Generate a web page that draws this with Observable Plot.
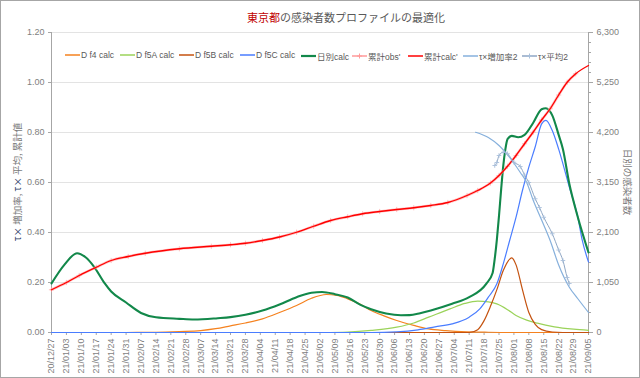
<!DOCTYPE html>
<html><head><meta charset="utf-8">
<script src="https://cdn.jsdelivr.net/npm/d3@7"></script>
<script src="https://cdn.jsdelivr.net/npm/@observablehq/plot@0.6"></script>
<style>
body{margin:0;background:#fff;}
#chart{position:relative;width:640px;height:378px;overflow:hidden;font-family:"Liberation Sans","Noto Sans CJK JP",Arial,sans-serif;background:#fff;}
#chart svg.plot{position:absolute;left:0;top:0;}
#frame{position:absolute;left:0;top:0;width:640px;height:378px;box-sizing:border-box;border:1px solid #a6a6a6;pointer-events:none;}
#title{position:absolute;top:9px;left:247px;font-size:11px;color:#595959;white-space:nowrap;font-family:"Noto Sans CJK JP",sans-serif;}
#title .red{color:#c00000;}
#legend{position:absolute;left:0;top:50px;width:640px;height:12px;font-size:8.5px;color:#595959;white-space:nowrap;font-family:"Liberation Sans","Noto Sans CJK JP",sans-serif;}
#legend .item{position:absolute;top:0;display:flex;align-items:center;gap:1px;}
.ytitle{position:absolute;font-size:9.5px;color:#7a7a7a;white-space:nowrap;font-family:"Noto Sans CJK JP",sans-serif;}
.ytitle .tau{color:#1f3864;}
</style></head>
<body>
<div id="chart">
  <div id="title"><span class="red">東京都</span>の感染者数プロファイルの最適化</div>
  <div class="ytitle" id="ytl" style="left:17px;top:182px;transform:translate(-50%,-50%) rotate(-90deg);"><span class="tau">τ×</span> 増加率, <span class="tau">τ×</span> 平均, 累計値</div>
  <div class="ytitle" id="ytr" style="left:628px;top:182px;transform:translate(-50%,-50%) rotate(90deg);">日別の感染者数</div>
  <div id="legend"></div>
  <div id="frame"></div>
</div>
<script>
// ---------- data ----------
const xTickLabels = ["20/12/27","21/01/03","21/01/10","21/01/17","21/01/24","21/01/31","21/02/07","21/02/14","21/02/21","21/02/28","21/03/07","21/03/14","21/03/21","21/03/28","21/04/04","21/04/11","21/04/18","21/04/25","21/05/02","21/05/09","21/05/16","21/05/23","21/05/30","21/06/06","21/06/13","21/06/20","21/06/27","21/07/04","21/07/11","21/07/18","21/07/25","21/08/01","21/08/08","21/08/15","21/08/22","21/08/29","21/09/05"];
const leftTicks = [0, 0.2, 0.4, 0.6, 0.8, 1.0, 1.2];
const rightTicks = [0, 1050, 2100, 3150, 4200, 5250, 6300];
const rightMinorStep = 210;
const rightPerLeft = 5250; // 1.00 on the left axis = 5,250 on the right axis

const legendLabels = ["D f4 calc","D f5A calc","D f5B calc","D f5C calc","日別calc","累計obs'","累計calc'","τ×増加率2","τ×平均2"];

// right axis series (daily counts)
const dF4 = [["2021-01-31",0],["2021-02-14",5],["2021-02-25",20],["2021-03-07",40],["2021-03-14",80],["2021-03-21",140],["2021-03-28",200],["2021-04-05",287],["2021-04-13",420],["2021-04-21",567],["2021-04-28",720],["2021-05-05",798],["2021-05-10",780],["2021-05-15",707],["2021-05-21",590],["2021-05-26",462],["2021-06-01",350],["2021-06-07",252],["2021-06-15",150],["2021-06-22",75],["2021-06-30",40],["2021-07-10",15],["2021-07-20",5],["2021-07-30",0],["2021-09-05",0]];
const dF5A = [["2021-05-03",0],["2021-05-15",10],["2021-05-26",45],["2021-06-07",112],["2021-06-15",200],["2021-06-22",322],["2021-07-02",497],["2021-07-09",610],["2021-07-15",658],["2021-07-20",645],["2021-07-24",600],["2021-07-29",480],["2021-08-02",357],["2021-08-07",260],["2021-08-12",196],["2021-08-20",120],["2021-08-29",70],["2021-09-05",45]];
const dF5B = [["2021-01-31",0],["2021-07-11",0],["2021-07-15",60],["2021-07-18",250],["2021-07-21",550],["2021-07-24",900],["2021-07-27",1300],["2021-07-30",1540],["2021-07-31",1568],["2021-08-02",1420],["2021-08-05",900],["2021-08-08",420],["2021-08-11",170],["2021-08-14",60],["2021-08-19",10],["2021-08-24",0],["2021-09-05",0]];
const dF5C = [["2020-12-27",0],["2021-05-26",0],["2021-06-07",15],["2021-06-17",57],["2021-06-25",120],["2021-07-03",182],["2021-07-11",322],["2021-07-16",497],["2021-07-20",742],["2021-07-24",1022],["2021-07-27",1442],["2021-07-30",1932],["2021-08-02",2422],["2021-08-05",2982],["2021-08-08",3472],["2021-08-11",3900],["2021-08-14",4380],["2021-08-16",4455],["2021-08-19",4242],["2021-08-22",3850],["2021-08-27",3052],["2021-08-31",2422],["2021-09-02",1950],["2021-09-05",1480]];
const dailyCalc = [["2020-12-27",1030],["2021-01-02",1420],["2021-01-08",1665],["2021-01-12",1580],["2021-01-16",1380],["2021-01-21",1030],["2021-01-24",860],["2021-01-31",630],["2021-02-07",410],["2021-02-14",320],["2021-02-25",287],["2021-03-04",273],["2021-03-15",300],["2021-03-21",322],["2021-03-28",371],["2021-04-05",462],["2021-04-13",590],["2021-04-21",741],["2021-04-28",835],["2021-05-03",850],["2021-05-09",805],["2021-05-15",735],["2021-05-21",580],["2021-05-26",490],["2021-06-02",400],["2021-06-09",362],["2021-06-13",365],["2021-06-18",406],["2021-06-23",462],["2021-07-03",602],["2021-07-11",742],["2021-07-19",1022],["2021-07-22",1250],["2021-07-23",1550],["2021-07-24",1950],["2021-07-25",2450],["2021-07-26",3000],["2021-07-27",3500],["2021-07-28",3850],["2021-07-29",4060],["2021-07-31",4130],["2021-08-03",4100],["2021-08-06",4150],["2021-08-10",4400],["2021-08-14",4690],["2021-08-16",4710],["2021-08-19",4560],["2021-08-22",4150],["2021-08-24",3850],["2021-08-27",3122],["2021-08-31",2422],["2021-09-05",1680]];

// left axis series
const cumCalc = [["2020-12-27",0.171],["2021-01-03",0.200],["2021-01-09",0.228],["2021-01-17",0.261],["2021-01-24",0.288],["2021-02-01",0.304],["2021-02-09",0.317],["2021-02-25",0.335],["2021-03-12",0.345],["2021-03-21",0.351],["2021-03-28",0.357],["2021-04-05",0.368],["2021-04-13",0.382],["2021-04-21",0.401],["2021-04-29",0.425],["2021-05-07",0.448],["2021-05-15",0.463],["2021-05-22",0.475],["2021-05-30",0.484],["2021-06-07",0.492],["2021-06-15",0.499],["2021-06-23",0.508],["2021-07-01",0.520],["2021-07-10",0.548],["2021-07-15",0.568],["2021-07-21",0.598],["2021-07-25",0.628],["2021-07-29",0.665],["2021-08-02",0.708],["2021-08-06",0.755],["2021-08-10",0.801],["2021-08-14",0.850],["2021-08-18",0.895],["2021-08-22",0.950],["2021-08-26",1.001],["2021-08-30",1.035],["2021-09-05",1.068]];
const cumObs = [["2020-12-27",0.171],["2021-01-03",0.200],["2021-01-09",0.228],["2021-01-17",0.261],["2021-01-24",0.288],["2021-02-01",0.304],["2021-02-09",0.317],["2021-02-25",0.335],["2021-03-12",0.345],["2021-03-21",0.351],["2021-03-28",0.357],["2021-04-05",0.368],["2021-04-13",0.382],["2021-04-21",0.401],["2021-04-29",0.425],["2021-05-07",0.448],["2021-05-15",0.463],["2021-05-22",0.475],["2021-05-30",0.484],["2021-06-07",0.492],["2021-06-15",0.499],["2021-06-23",0.508],["2021-07-01",0.520],["2021-07-10",0.548],["2021-07-15",0.568],["2021-07-21",0.598],["2021-07-25",0.628],["2021-07-29",0.665],["2021-08-02",0.708],["2021-08-06",0.755],["2021-08-10",0.801],["2021-08-14",0.850],["2021-08-18",0.895],["2021-08-22",0.950],["2021-08-26",1.001],["2021-08-30",1.035]];
const tauRate2 = [["2021-07-14",0.801],["2021-07-20",0.780],["2021-07-25",0.748],["2021-07-30",0.700],["2021-08-04",0.640],["2021-08-07",0.600],["2021-08-10",0.530],["2021-08-14",0.450],["2021-08-18",0.368],["2021-08-22",0.270],["2021-08-27",0.181],["2021-08-31",0.135],["2021-09-05",0.080]];
const tauMean2 = [["2021-07-23",0.668],["2021-07-24",0.680],["2021-07-25",0.708],["2021-07-27",0.721],["2021-07-29",0.715],["2021-08-01",0.681],["2021-08-04",0.664],["2021-08-06",0.630],["2021-08-08",0.600],["2021-08-11",0.535],["2021-08-13",0.500],["2021-08-15",0.461],["2021-08-19",0.395],["2021-08-22",0.330],["2021-08-24",0.288],["2021-08-26",0.220],["2021-08-27",0.196]];

const colors = ["#f5821f","#9bd35a","#c4520f","#4a7dff","#12884a","#ff9a9a","#ff0000","#86b0dc","#8ea6c4"];

// ---------- build ----------
const parseDay = d3.utcParse("%Y-%m-%d");
const parseTick = d3.utcParse("%y/%m/%d");
const toRows = (arr, k = 1) => arr.map(([d, v]) => ({date: parseDay(d), value: v / k}));
const xTicks = xTickLabels.map(parseTick);
const xDomain = [xTicks[0], xTicks[xTicks.length - 1]];
const minorTicks = d3.range(0, 6300 + 1, rightMinorStep).map(v => v / rightPerLeft);

const lineOpts = (c, w, extra = {}) => ({x: "date", y: "value", stroke: c, strokeWidth: w, curve: "monotone-x", ...extra});

const plot = Plot.plot({
  width: 640, height: 378,
  marginTop: 32, marginBottom: 46, marginLeft: 51, marginRight: 52,
  style: {fontFamily: "Liberation Sans, Arial, sans-serif", fontSize: "9px", color: "#7f7f7f", background: "transparent", overflow: "visible"},
  x: {type: "utc", domain: xDomain},
  y: {domain: [0, 1.2]},
  marks: [
    Plot.gridY(leftTicks, {stroke: "#e3e3e3", strokeOpacity: 1}),
    Plot.ruleY([0], {stroke: "#a6a6a6"}),
    Plot.ruleX([xDomain[0]], {stroke: "#a6a6a6"}),
    Plot.ruleX([xDomain[1]], {stroke: "#a6a6a6"}),
    Plot.axisY(leftTicks, {anchor: "left", tickFormat: d => d.toFixed(2), tickSize: 3, tickPadding: 4, label: null, stroke: "#a6a6a6", fill: "#7f7f7f"}),
    Plot.axisY(rightTicks.map(v => v / rightPerLeft), {anchor: "right", tickFormat: d => d3.format(",")(Math.round(d * rightPerLeft)), tickSize: 4, tickPadding: 4, label: null, stroke: "#a6a6a6", fill: "#7f7f7f"}),
    Plot.axisY(minorTicks, {anchor: "right", tickFormat: () => "", tickSize: 2, label: null, stroke: "#a6a6a6"}),
    Plot.axisX(xTicks, {anchor: "bottom", tickFormat: d3.utcFormat("%y/%m/%d"), tickRotate: -90, tickSize: 3, tickPadding: 3, label: null, stroke: "#a6a6a6", fill: "#7f7f7f"}),
    Plot.line(toRows(dF4, rightPerLeft), lineOpts(colors[0], 1.2)),
    Plot.line(toRows(dF5A, rightPerLeft), lineOpts(colors[1], 1.2)),
    Plot.line(toRows(dF5B, rightPerLeft), lineOpts(colors[2], 1.2)),
    Plot.line(toRows(dF5C, rightPerLeft), lineOpts(colors[3], 1.2)),
    Plot.line(toRows(dailyCalc, rightPerLeft), lineOpts(colors[4], 2.1)),
    Plot.line(toRows(cumObs), lineOpts(colors[5], 2.6, {strokeOpacity: 0.6})),
    Plot.dot(toRows(cumObs), {x: "date", y: "value", symbol: "plus", r: 1.8, stroke: colors[5], strokeWidth: 0.8, strokeOpacity: 0.8}),
    Plot.line(toRows(cumCalc), lineOpts(colors[6], 1.3)),
    Plot.line(toRows(tauRate2), lineOpts(colors[7], 1.2)),
    Plot.line(toRows(tauMean2), lineOpts(colors[8], 1.0)),
    Plot.dot(toRows(tauMean2), {x: "date", y: "value", symbol: "plus", r: 1.6, stroke: "#a9c0db", strokeWidth: 0.9})
  ]
});
plot.classList.add("plot");
document.getElementById("chart").insertBefore(plot, document.getElementById("title"));

const legendItemLeft = [65, 120, 179, 240, 301, 352, 408, 463, 522];
const legend = document.getElementById("legend");
legendLabels.forEach((lab, i) => {
  const item = document.createElement("div");
  item.className = "item";
  item.style.left = legendItemLeft[i] + "px";
  const marker = (i === 5 || i === 8) ? `<path d="M7.5,2.5V7.5M5,5H10" stroke="${i === 8 ? '#a9c0db' : colors[i]}" stroke-width="1"/>` : "";
  const w = i === 4 ? 2.2 : 1.5;
  item.innerHTML = `<svg width="15" height="10"><line x1="0" x2="15" y1="5" y2="5" stroke="${colors[i]}" stroke-width="${w}"/>${marker}</svg><span>${lab}</span>`;
  legend.appendChild(item);
});
</script>
</body></html>
